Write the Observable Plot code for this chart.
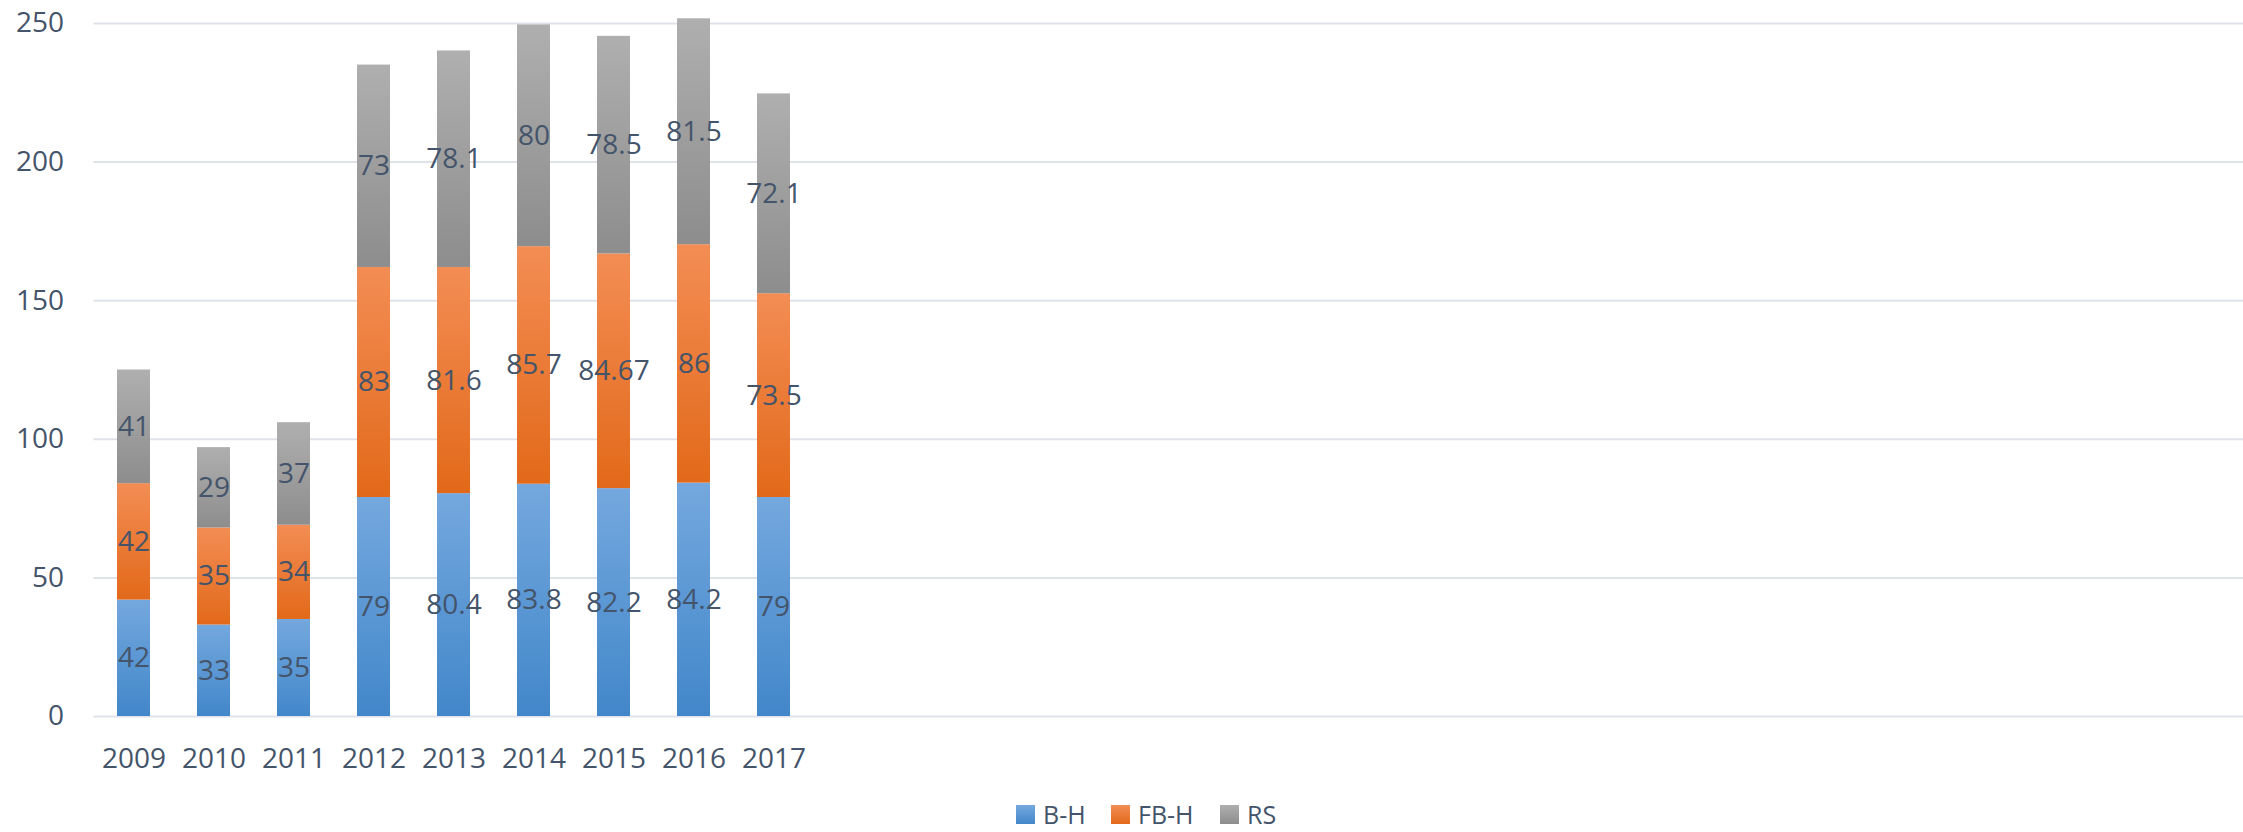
<!DOCTYPE html>
<html>
<head>
<meta charset="utf-8">
<script src="https://cdn.jsdelivr.net/npm/d3@7"></script>
<script src="https://cdn.jsdelivr.net/npm/@observablehq/plot@0.6"></script>
<style>
  html, body { margin: 0; padding: 0; background: #fff; overflow: hidden; }
  #wrap { position: relative; width: 2243px; height: 832px; font-family: "Open Sans", sans-serif; color: #44546A; }
  #wrap svg { display: block; }
  .lg { position: absolute; top: 804px; height: 20px; display: flex; align-items: center; font-size: 25px; line-height: 20px; }
  .sw { width: 19px; height: 19px; margin-right: 8px; }
</style>
</head>
<body>
<div id="wrap"></div>
<script>
const years = ["2009", "2010", "2011", "2012", "2013", "2014", "2015", "2016", "2017"];
const series = ["B-H", "FB-H", "RS"];
const bh  = [42, 33, 35, 79, 80.4, 83.8, 82.2, 84.2, 79];
const fbh = [42, 35, 34, 83, 81.6, 85.7, 84.67, 86, 73.5];
const rs  = [41, 29, 37, 73, 78.1, 80, 78.5, 81.5, 72.1];
const yTicks = [0, 50, 100, 150, 200, 250];
const gradStops = {
  "B-H":  ["#74a8de", "#4287ca"],
  "FB-H": ["#f38d54", "#e2691a"],
  "RS":   ["#afafaf", "#8d8d8d"]
};
const gradIds = {"B-H": "gBH", "FB-H": "gFBH", "RS": "gRS"};

const rows = [];
years.forEach((yr, i) => {
  rows.push({year: yr, series: "B-H", value: bh[i]});
  rows.push({year: yr, series: "FB-H", value: fbh[i]});
  rows.push({year: yr, series: "RS", value: rs[i]});
});

const defs = () => {
  const d = d3.create("svg:defs");
  for (const s of series) {
    const g = d.append("linearGradient").attr("id", gradIds[s])
      .attr("x1", 0).attr("y1", 0).attr("x2", 0).attr("y2", 1);
    g.append("stop").attr("offset", "0%").attr("stop-color", gradStops[s][0]);
    g.append("stop").attr("offset", "100%").attr("stop-color", gradStops[s][1]);
  }
  return d.node();
};

const chart = Plot.plot({
  width: 2243,
  height: 790,
  marginLeft: 93.5,
  marginRight: 0,
  marginTop: 23,
  marginBottom: 74,
  style: {fontFamily: "Open Sans, sans-serif", fontSize: "28px", color: "#44546A", background: "#fff"},
  x: {domain: years, range: [93.5, 813.5], paddingInner: 0.5875, paddingOuter: 0.29375, label: null},
  y: {domain: [0, 250], label: null},
  color: {domain: series, range: series.map(s => `url(#${gradIds[s]})`)},
  marks: [
    defs,
    Plot.ruleY(yTicks, {stroke: "#dfe3e9", strokeWidth: 2}),
    Plot.barY(rows, {x: "year", y: "value", fill: "series"}),
    Plot.text(rows, Plot.stackY({x: "year", y: "value", text: d => String(d.value), fill: "#44546A", fontSize: 28})),
    Plot.axisY({ticks: yTicks, tickSize: 0, tickPadding: 30, label: null}),
    Plot.axisX({tickSize: 0, tickPadding: 32, label: null})
  ]
});

const wrap = document.getElementById("wrap");
wrap.appendChild(chart);

const legendLeft = {"B-H": 1016, "FB-H": 1111, "RS": 1220};
for (const s of series) {
  const item = document.createElement("div");
  item.className = "lg";
  item.style.left = legendLeft[s] + "px";
  const sw = document.createElement("div");
  sw.className = "sw";
  sw.style.background = `linear-gradient(${gradStops[s][0]}, ${gradStops[s][1]})`;
  const t = document.createElement("span");
  t.textContent = s;
  item.appendChild(sw);
  item.appendChild(t);
  wrap.appendChild(item);
}
</script>
</body>
</html>
